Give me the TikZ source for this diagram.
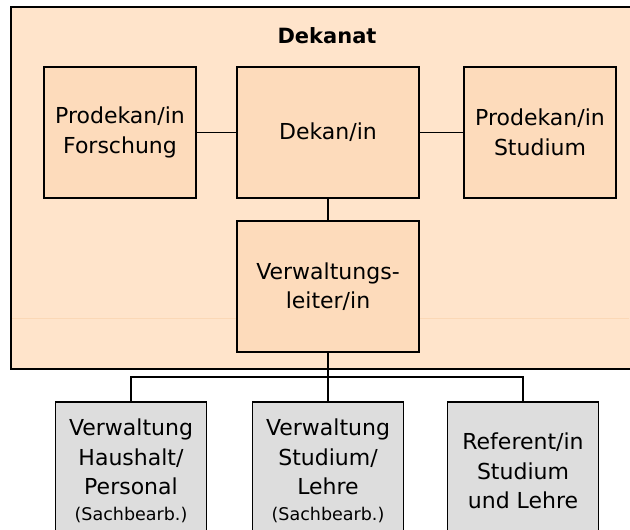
\documentclass[tikz,border=0pt]{standalone}
\usepackage{fontspec}
\setmainfont{DejaVu Sans}
\definecolor{outerfill}{HTML}{FFE4CB}
\definecolor{boxfill}{HTML}{FDDBBB}
\definecolor{grayfill}{HTML}{DDDDDD}
\definecolor{seam}{HTML}{FBD8B6}
\begin{document}
\begin{tikzpicture}[x=1pt,y=-1pt,
  outerbox/.style={draw=black, line width=1.8pt, fill=outerfill},
  topbox/.style={draw=black, line width=1.3pt, fill=boxfill, inner sep=0pt,
    minimum height=131pt, align=center, font=\fontsize{22}{29.5}\selectfont},
  lowbox/.style={draw=black, line width=1.3pt, fill=grayfill, inner sep=0pt,
    minimum width=151pt, minimum height=138pt, align=center, font=\fontsize{22}{29.5}\selectfont},
  conn/.style={draw=black, line width=1.3pt}]
\useasboundingbox (0,0) rectangle (630,530);
\clip (0,0) rectangle (630,530);
\draw[outerbox] (11,7) rectangle (645,369);
\draw[seam, line width=0.8pt] (12,318) -- (629,318);
\node[font=\fontsize{21}{25}\selectfont\bfseries] (title) at (327,36) {Dekanat};
\node[topbox, minimum width=152pt] (pf) at (120,132.5) {Prodekan/in\\Forschung};
\node[topbox, minimum width=182pt] (dk) at (328,132.5) {Dekan/in};
\node[topbox, minimum width=152pt] (ps) at (540,132.5) {Prodekan/in\\Studium};
\node[topbox, minimum width=182pt] (vl) at (328,286.5) {Verwaltungs-\\leiter/in};
\node[lowbox] (b1) at (131,471) {Verwaltung\\Haushalt/\\Personal\\[-3.5pt]{\fontsize{17.5}{24}\selectfont(Sachbearb.)}};
\node[lowbox] (b2) at (328,471) {Verwaltung\\Studium/\\Lehre\\[-3.5pt]{\fontsize{17.5}{24}\selectfont(Sachbearb.)}};
\node[lowbox] (b3) at (523,471) {Referent/in\\Studium\\und Lehre};
\coordinate (bus) at (328,377);
\draw[conn] (pf.east) -- (dk.west);
\draw[conn] (dk.east) -- (ps.west);
\draw[conn] (dk.south) -- (vl.north);
\draw[conn] (vl.south) -- (b2.north);
\draw[conn] (b1.north) -- (b1.north |- bus) -- (b3.north |- bus) -- (b3.north);
\end{tikzpicture}
\end{document}
